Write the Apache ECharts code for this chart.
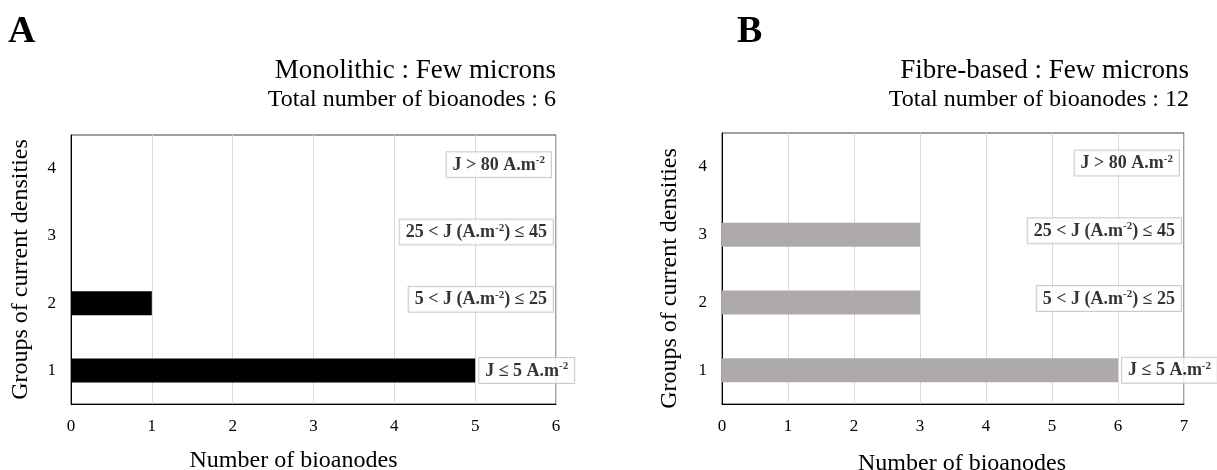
<!DOCTYPE html>
<html>
<head>
<meta charset="utf-8">
<script src="https://cdn.jsdelivr.net/npm/echarts@6.0.0/dist/echarts.min.js"></script>
<style>
  html, body { margin: 0; padding: 0; background: #fff; }
  #chart { width: 1217px; height: 470px; }
</style>
</head>
<body>
<div id="chart"></div>
<script>
// groups of current densities (y axis, bottom to top)
const groups = ["1", "2", "3", "4"];
const groupLabels = [
  "J ≤ 5 A.m{sup|-2}",
  "5 < J (A.m{sup|-2}) ≤ 25",
  "25 < J (A.m{sup|-2}) ≤ 45",
  "J > 80 A.m{sup|-2}",
];

// panel A : monolithic
const monolithicCounts = [5, 1, 0, 0];
const monolithicMax = 6;
// panel B : fibre-based
const fibreCounts = [6, 3, 3, 0];
const fibreMax = 7;

const serif = '"Liberation Serif", "Times New Roman", serif';

const chart = echarts.init(document.getElementById("chart"));

// labels : group 1 sits right after its bar, the others hug the right border
const labelPoints = (counts, xMax) =>
  groups.map((g, i) => ({
    value: [i === 0 ? counts[0] : xMax, g],
    label: i === 0
      ? { position: "right", distance: 4 }
      : { position: "left", distance: i === 3 ? 5 : 3, offset: [0, -4] },
  }));

const boxLabel = (params) => groupLabels[params.dataIndex];

const labelStyle = {
  show: true,
  formatter: boxLabel,
  fontFamily: serif,
  fontWeight: "bold",
  fontSize: 18,
  lineHeight: 20,
  color: "#000",
  backgroundColor: "#fff",
  borderColor: "#bfbfbf",
  borderWidth: 1,
  padding: [3, 6, 2, 6],
  rich: {
    sup: { fontFamily: serif, fontWeight: "bold", fontSize: 11, lineHeight: 20, verticalAlign: "top" },
  },
};

const xAxisFor = (gridIndex, xMax, nameGap, namePad) => ({
  gridIndex,
  type: "value",
  min: 0,
  max: xMax,
  interval: 1,
  name: "Number of bioanodes",
  nameLocation: "middle",
  nameGap,
  nameTextStyle: { fontFamily: serif, fontSize: 24, color: "#000", padding: namePad },
  axisLine: { show: true, lineStyle: { color: "#000" } },
  axisTick: { show: false },
  axisLabel: { fontFamily: serif, fontSize: 17, color: "#000", margin: 14 },
  splitLine: { show: true, lineStyle: { color: "#d9d9d9" } },
});

const yAxisFor = (gridIndex, nameGap, namePad) => ({
  gridIndex,
  type: "category",
  data: groups,
  name: "Groups of current densities",
  nameLocation: "middle",
  nameGap,
  nameTextStyle: { fontFamily: serif, fontSize: 24, color: "#000", padding: namePad },
  axisLine: { show: true, lineStyle: { color: "#000" } },
  axisTick: { show: false },
  axisLabel: { fontFamily: serif, fontSize: 17, color: "#000", margin: 15 },
  splitLine: { show: false },
});

const option = {
  animation: false,
  backgroundColor: "#fff",
  title: [
    { text: "A", left: 8, top: 13, padding: 0, textStyle: { fontFamily: serif, fontWeight: "bold", fontSize: 38, color: "#000" } },
    { text: "Monolithic : Few microns", right: 661, top: 57, padding: 0, textStyle: { fontFamily: serif, fontWeight: "normal", fontSize: 27, color: "#000" } },
    { text: "Total number of bioanodes : 6", right: 661, top: 88, padding: 0, textStyle: { fontFamily: serif, fontWeight: "normal", fontSize: 24, color: "#000" } },
    { text: "B", left: 737, top: 13, padding: 0, textStyle: { fontFamily: serif, fontWeight: "bold", fontSize: 38, color: "#000" } },
    { text: "Fibre-based : Few microns", right: 28, top: 57, padding: 0, textStyle: { fontFamily: serif, fontWeight: "normal", fontSize: 27, color: "#000" } },
    { text: "Total number of bioanodes : 12", right: 28, top: 88, padding: 0, textStyle: { fontFamily: serif, fontWeight: "normal", fontSize: 24, color: "#000" } },
  ],
  grid: [
    { left: 71, right: 661, top: 135, bottom: 66, outerBoundsMode: "none", show: true, borderColor: "#404040", borderWidth: 1 },
    { left: 722, right: 33, top: 133, bottom: 66, outerBoundsMode: "none", show: true, borderColor: "#404040", borderWidth: 1 },
  ],
  xAxis: [xAxisFor(0, monolithicMax, 45, [0, 40, 0, 0]), xAxisFor(1, fibreMax, 48, [0, 0, 0, 18])],
  yAxis: [yAxisFor(0, 38, 0), yAxisFor(1, 40, [0, 20, 0, 0])],
  series: [
    {
      name: "Monolithic",
      type: "bar",
      xAxisIndex: 0,
      yAxisIndex: 0,
      data: monolithicCounts,
      barWidth: 24,
      itemStyle: { color: "#000" },
    },
    {
      name: "Fibre-based",
      type: "bar",
      xAxisIndex: 1,
      yAxisIndex: 1,
      data: fibreCounts,
      barWidth: 24,
      itemStyle: { color: "#aeaaaa" },
    },
    {
      type: "scatter",
      xAxisIndex: 0,
      yAxisIndex: 0,
      symbolSize: 0,
      silent: true,
      z: 5,
      data: labelPoints(monolithicCounts, monolithicMax),
      label: labelStyle,
    },
    {
      type: "scatter",
      xAxisIndex: 1,
      yAxisIndex: 1,
      symbolSize: 0,
      silent: true,
      z: 5,
      data: labelPoints(fibreCounts, fibreMax),
      label: labelStyle,
    },
  ],
};

chart.setOption(option);
</script>
</body>
</html>
